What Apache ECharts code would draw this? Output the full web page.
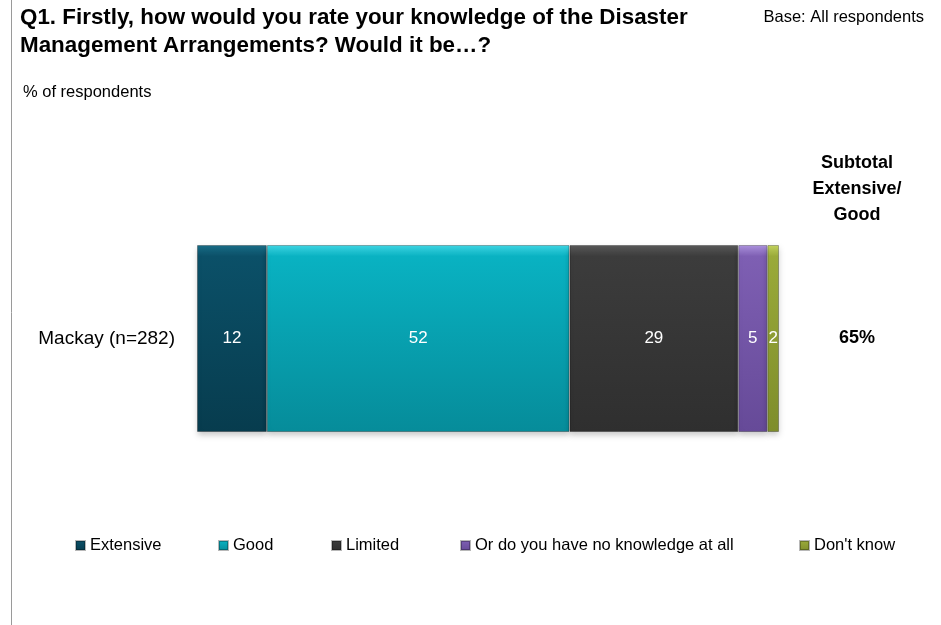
<!DOCTYPE html>
<html>
<head>
<meta charset="utf-8">
<script src="https://cdn.jsdelivr.net/npm/echarts@6/dist/echarts.min.js"></script>
<style>
  html, body { margin: 0; padding: 0; background: #fff; }
  #chart { width: 941px; height: 625px; }
</style>
</head>
<body>
<div id="chart"></div>
<script>
// Survey result: knowledge of Disaster Management Arrangements
const categories = ['Mackay (n=282)'];
const seriesNames = ['Extensive', 'Good', 'Limited', 'Or do you have no knowledge at all', "Don't know"];
const extensive = [12];
const good = [52];
const limited = [29];
const noKnowledge = [5];
const dontKnow = [2];
const subtotal = [65];

const seriesValues = [extensive, good, limited, noKnowledge, dontKnow];
const palette = [
  ['#1a6e88', '#0b5068', '#073c4e'],
  ['#3fd6e4', '#09b2c2', '#068c9a'],
  ['#5a5a5a', '#3c3c3c', '#2f2f2f'],
  ['#ad93de', '#7e5fb3', '#664a98'],
  ['#c4d45e', '#9bab3b', '#7f8e2c']
];
const legendLeft = [70, 213, 326, 455, 794];
const FONT = 'Liberation Sans';

const chart = echarts.init(document.getElementById('chart'), null, { renderer: 'canvas' });

const series = seriesNames.map((name, i) => ({
  name,
  type: 'bar',
  stack: 'total',
  barWidth: '100%',
  data: seriesValues[i],
  itemStyle: {
    color: new echarts.graphic.LinearGradient(0, 0, 0, 1, [
      { offset: 0, color: palette[i][0] },
      { offset: 0.06, color: palette[i][1] },
      { offset: 1, color: palette[i][2] }
    ]),
    borderColor: 'rgba(0,0,0,0.28)',
    borderWidth: 1,
    shadowColor: 'rgba(0,0,0,0.22)',
    shadowBlur: 6,
    shadowOffsetY: 3
  },
  label: {
    show: true,
    position: 'inside',
    color: '#ffffff',
    fontFamily: FONT,
    fontSize: 17
  }
}));

const legends = seriesNames.map((name, i) => ({
  data: [name],
  left: legendLeft[i],
  top: 532,
  itemWidth: 9,
  itemHeight: 9,
  icon: 'rect',
  textStyle: { fontFamily: FONT, fontSize: 16.5, color: '#000' },
  selectedMode: false
}));

chart.setOption({
  animation: false,
  grid: { left: 197, right: 162, top: 245, bottom: 193, containLabel: false },
  xAxis: {
    type: 'value', min: 0, max: 100,
    show: false
  },
  yAxis: [
    {
      type: 'category',
      data: categories,
      axisLine: { show: false },
      axisTick: { show: false },
      axisLabel: { fontFamily: FONT, fontSize: 19, color: '#000', margin: 22 }
    },
    {
      type: 'category',
      position: 'right',
      data: categories,
      axisLine: { show: false },
      axisTick: { show: false },
      axisLabel: {
        fontFamily: FONT, fontSize: 18, fontWeight: 'bold', color: '#000',
        margin: 60,
        formatter: (v, idx) => subtotal[idx] + '%'
      }
    }
  ],
  legend: legends,
  series,
  graphic: [
    { type: 'line', shape: { x1: 11.5, y1: 0, x2: 11.5, y2: 625 }, style: { stroke: '#9a9a9a', lineWidth: 1 } },
    {
      type: 'text', left: 20, top: 4,
      style: {
        text: 'Q1. Firstly, how would you rate your knowledge of the Disaster\nManagement Arrangements? Would it be\u2026?',
        font: 'bold 22.4px "Liberation Sans"', fill: '#000', lineHeight: 28
      }
    },
    {
      type: 'text', right: 17, top: 9,
      style: { text: 'Base: All respondents', font: '16.5px "Liberation Sans"', fill: '#000' }
    },
    {
      type: 'text', left: 23, top: 84,
      style: { text: '% of respondents', font: '16.5px "Liberation Sans"', fill: '#000' }
    },
    {
      type: 'text', x: 857, y: 150,
      style: {
        x: 0, y: 0,
        text: 'Subtotal\nExtensive/\nGood', align: 'center', verticalAlign: 'top',
        font: 'bold 18px "Liberation Sans"', fill: '#000', lineHeight: 26
      }
    }
  ]
});
</script>
</body>
</html>
